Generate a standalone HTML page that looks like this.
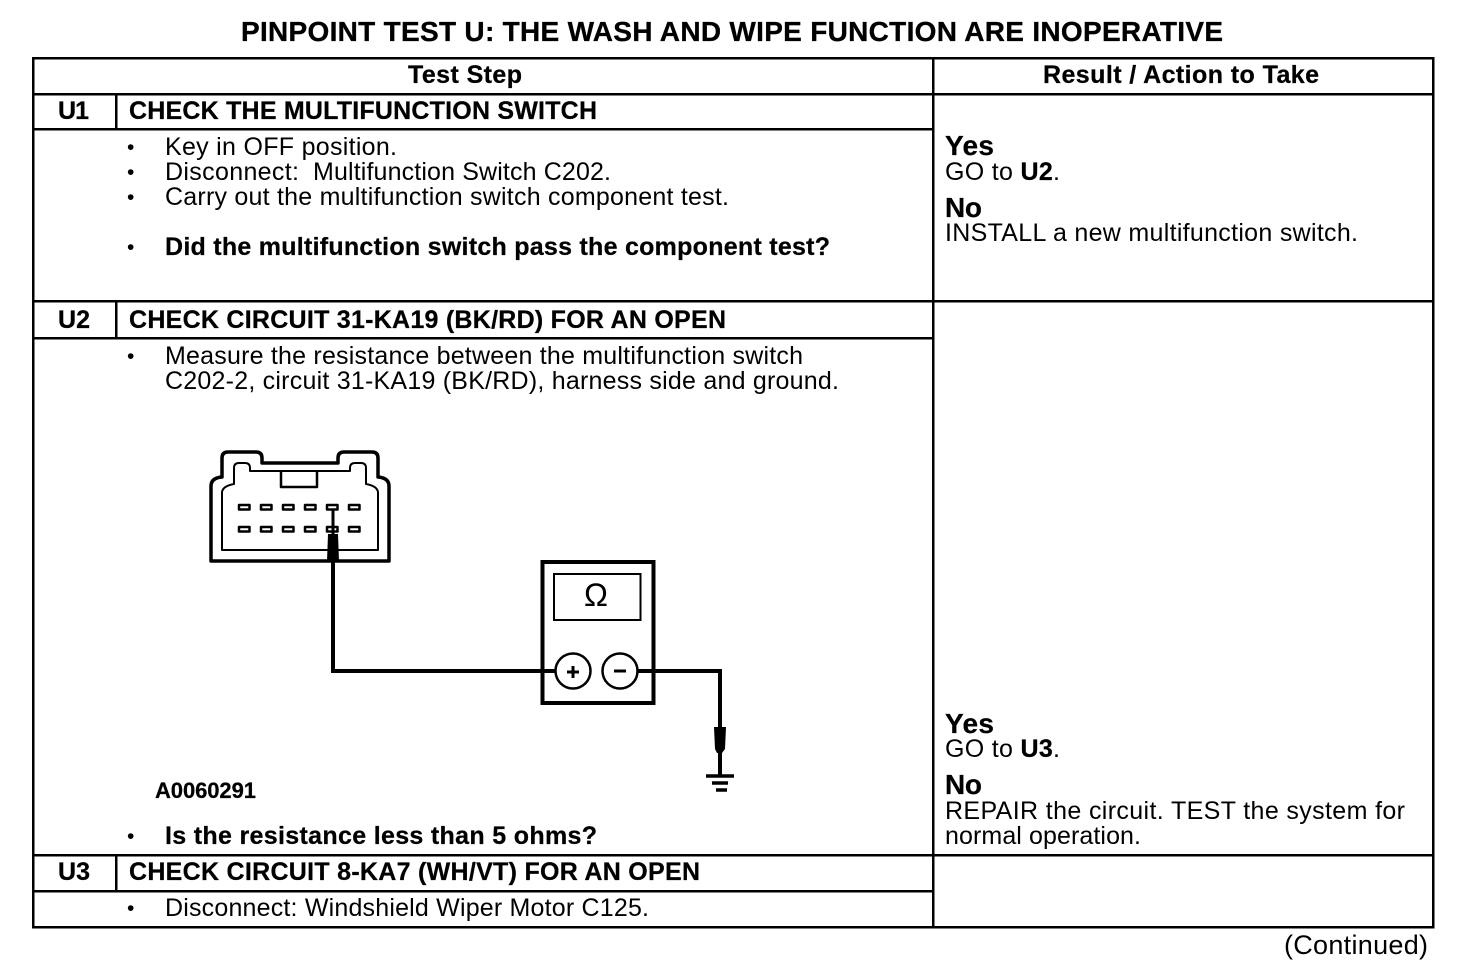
<!DOCTYPE html>
<html><head><meta charset="utf-8"><style>
html,body{margin:0;padding:0;background:#fff}
svg{display:block}
text{font-family:"Liberation Sans",sans-serif;font-size:25px;fill:#000}
.b{font-weight:bold;stroke:#000;stroke-width:.25px}
.t{font-size:28px;font-weight:bold;stroke:#000;stroke-width:.3px}
.y{font-size:28px;font-weight:bold;stroke:#000;stroke-width:.25px}
.d{font-size:21px}
</style></head><body>
<svg width="1472" height="978" viewBox="0 0 1472 978" xmlns="http://www.w3.org/2000/svg">
<rect width="1472" height="978" fill="#fff"/>
<g stroke="#000" stroke-width="2.5" fill="none" shape-rendering="crispEdges">
<rect x="33" y="58" width="1400" height="869"/>
<path d="M33 94H1433M33 129H933M33 301H1433M33 338H933M33 855H1433M33 891H933M933 58V927M116 94V129M116 301V338M116 855V891"/>
</g>
<text class="t" x="241" y="41" textLength="982">PINPOINT TEST U: THE WASH AND WIPE FUNCTION ARE INOPERATIVE</text>
<text class="b" x="408" y="83" textLength="114">Test Step</text>
<text class="b" x="1043" y="83" textLength="276">Result / Action to Take</text>

<text class="b" x="58" y="119" textLength="31">U1</text>
<text class="b" x="129" y="119" textLength="468">CHECK THE MULTIFUNCTION SWITCH</text>
<text class="d" x="127" y="154">•</text><text x="165" y="155" textLength="232">Key in OFF position.</text>
<text class="d" x="127" y="179">•</text><text x="165" y="180" textLength="134">Disconnect:</text><text x="313" y="180" textLength="298">Multifunction Switch C202.</text>
<text class="d" x="127" y="204">•</text><text x="165" y="205" textLength="564">Carry out the multifunction switch component test.</text>
<text class="d" x="127" y="254">•</text><text class="b" x="165" y="255" textLength="665">Did the multifunction switch pass the component test?</text>

<text class="y" x="945" y="155" textLength="49">Yes</text>
<text x="945" y="180" textLength="115">GO to <tspan class="b">U2</tspan>.</text>
<text class="y" x="945" y="217" textLength="37">No</text>
<text x="945" y="241" textLength="413">INSTALL a new multifunction switch.</text>

<text class="b" x="58" y="328" textLength="32">U2</text>
<text class="b" x="129" y="328" textLength="597">CHECK CIRCUIT 31-KA19 (BK/RD) FOR AN OPEN</text>
<text class="d" x="127" y="363">•</text><text x="165" y="364" textLength="638">Measure the resistance between the multifunction switch</text>
<text x="165" y="389" textLength="674">C202-2, circuit 31-KA19 (BK/RD), harness side and ground.</text>

<!-- connector -->
<g fill="none" stroke="#000" stroke-linejoin="round">
<path stroke-width="3.5" d="M211 561V486Q211 478 222 477V458Q222 452 228 452H256Q262 452 262 458V463H338V458Q338 452 344 452H372Q378 452 378 458V477Q389 478 389 486V561Z"/>
<path stroke-width="2" d="M222 550V492Q223 486 234 484V468Q234 463 239 463H245Q250 463 250 468V471H350V468Q350 463 355 463H361Q366 463 366 468V484Q377 486 378 492V550Z"/>
<path stroke-width="2.5" d="M281 471V487H317V471"/>
<g stroke-width="2.500">
<rect x="239" y="505" width="10.500" height="4.500"/><rect x="261" y="505" width="10.500" height="4.500"/><rect x="283" y="505" width="10.500" height="4.500"/><rect x="305" y="505" width="10.500" height="4.500"/><rect x="327" y="505" width="10.500" height="4.500"/><rect x="349" y="505" width="10.500" height="4.500"/>
<rect x="239" y="527" width="10.500" height="4.500"/><rect x="261" y="527" width="10.500" height="4.500"/><rect x="283" y="527" width="10.500" height="4.500"/><rect x="305" y="527" width="10.500" height="4.500"/><rect x="327" y="527" width="10.500" height="4.500"/><rect x="349" y="527" width="10.500" height="4.500"/>
</g>
<path stroke-width="3" d="M333 510V535"/>
</g>
<path d="M328 534H338L339 561H327Z" fill="#000"/>
<!-- wires -->
<path d="M333 560V671H556M637 671H720V777" fill="none" stroke="#000" stroke-width="4"/>
<!-- meter -->
<rect x="542.500" y="562" width="111" height="141" fill="none" stroke="#000" stroke-width="4"/>
<rect x="554" y="574" width="86.500" height="46" fill="none" stroke="#000" stroke-width="2"/>
<text x="584" y="606" style="font-size:32px">Ω</text>
<circle cx="573" cy="671" r="17.500" fill="#fff" stroke="#000" stroke-width="2.500"/>
<circle cx="620" cy="671" r="17.500" fill="#fff" stroke="#000" stroke-width="2.500"/>
<path d="M567 672H579M573 666V678M614 671H626" stroke="#000" stroke-width="3" fill="none"/>
<!-- probe & ground -->
<path d="M714 727H726L725 749L722 753H717L715 749Z" fill="#000"/>
<path d="M706 776H734M712 783H728M716 790H727" stroke="#000" stroke-width="3.500" fill="none"/>
<text class="b" x="155" y="798" style="font-size:22px" textLength="101">A0060291</text>

<text class="d" x="127" y="843">•</text><text class="b" x="165" y="844" textLength="432">Is the resistance less than 5 ohms?</text>

<text class="y" x="945" y="733" textLength="49">Yes</text>
<text x="945" y="757" textLength="115">GO to <tspan class="b">U3</tspan>.</text>
<text class="y" x="945" y="794" textLength="37">No</text>
<text x="945" y="819" textLength="460">REPAIR the circuit. TEST the system for</text>
<text x="945" y="844" textLength="196">normal operation.</text>

<text class="b" x="58" y="880" textLength="32">U3</text>
<text class="b" x="129" y="880" textLength="571">CHECK CIRCUIT 8-KA7 (WH/VT) FOR AN OPEN</text>
<text class="d" x="127" y="915">•</text><text x="165" y="916" textLength="484">Disconnect: Windshield Wiper Motor C125.</text>
<text x="1284" y="954" style="font-size:27px" textLength="144">(Continued)</text>
</svg>
</body></html>
